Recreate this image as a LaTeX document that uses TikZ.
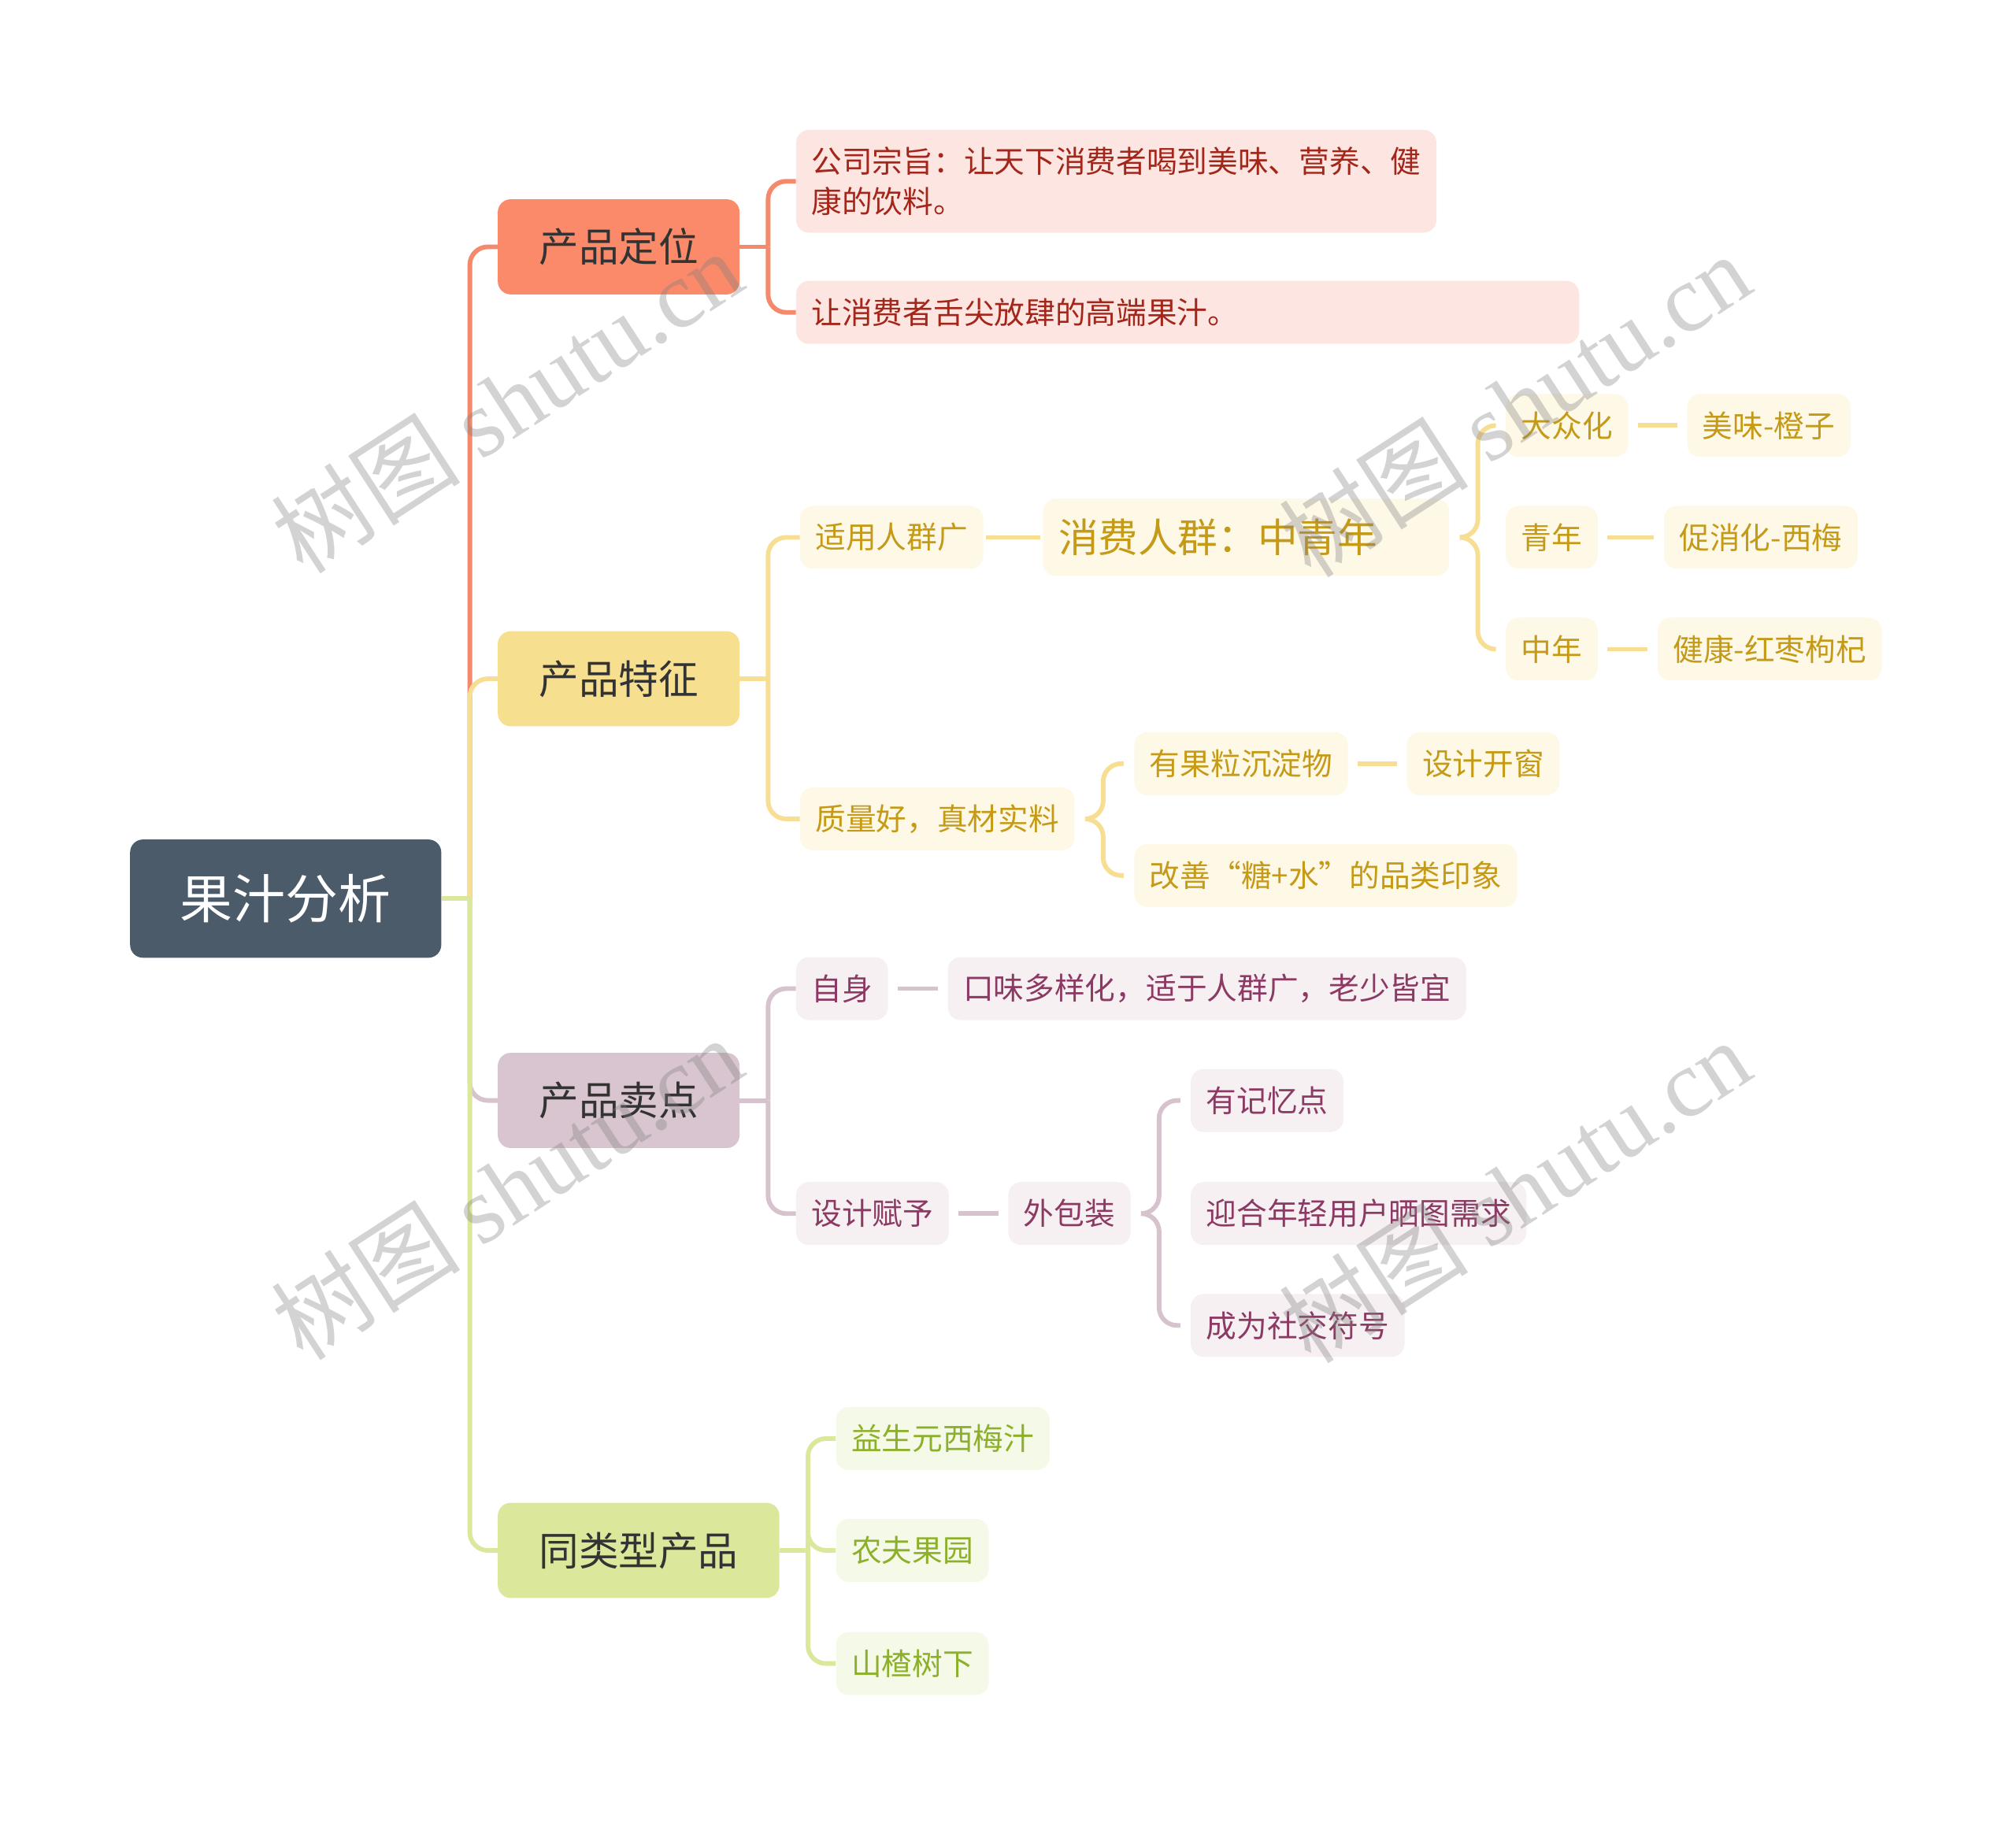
\documentclass[tikz,border=0pt]{standalone}
\usepackage{fontspec}
\setmainfont{Noto Sans CJK SC}
\newfontfamily\wmlatin{Liberation Serif}
\usetikzlibrary{calc}

\definecolor{rootfill}{HTML}{4B5B6A}
\definecolor{topictext}{HTML}{333333}
\definecolor{dwfill}{HTML}{FA8A6A}
\definecolor{dwline}{HTML}{F4896B}
\definecolor{dwleaf}{HTML}{FDE6E1}
\definecolor{dwtext}{HTML}{A3261B}
\definecolor{tzfill}{HTML}{F7DF90}
\definecolor{tzline}{HTML}{F7DE93}
\definecolor{tzleaf}{HTML}{FEF8E7}
\definecolor{tztext}{HTML}{C59A17}
\definecolor{mdfill}{HTML}{D8C5CF}
\definecolor{mdline}{HTML}{D7C3CD}
\definecolor{mdleaf}{HTML}{F6F0F3}
\definecolor{mdtext}{HTML}{8C3A63}
\definecolor{tlfill}{HTML}{DBE89B}
\definecolor{tlline}{HTML}{DBE89B}
\definecolor{tlleaf}{HTML}{F5F9E7}
\definecolor{tltext}{HTML}{8DB02A}

\tikzset{
  base/.style={rounded corners=10pt, anchor=west, inner ysep=0pt},
  rootbox/.style={base, fill=rootfill, text=white, font=\fontsize{41}{49}\selectfont,
    minimum height=92pt, inner xsep=39pt},
  topic/.style={base, fill=#1, text=topictext, font=\fontsize{31}{37}\selectfont,
    minimum height=74pt, inner xsep=32pt},
  leaf/.style 2 args={base, fill=#1, text=#2, font=\fontsize{23.7}{31}\selectfont,
    minimum height=49pt, inner xsep=12pt},
  dwleafbox/.style={leaf={dwleaf}{dwtext}},
  tzleafbox/.style={leaf={tzleaf}{tztext}},
  mdleafbox/.style={leaf={mdleaf}{mdtext}},
  tlleafbox/.style={leaf={tlleaf}{tltext}},
  link/.style={line width=3.6pt, draw=#1, rounded corners=14pt},
  short/.style={shorten <=#1, shorten >=#1},
  wm/.style={font=\fontsize{74}{80}\selectfont, text=gray, text opacity=0.35, rotate=33},
}

\begin{document}
\begin{tikzpicture}[x=1pt, y=1pt]
\useasboundingbox (0,0) rectangle (1568,-1420);

% root and main topics
\node[rootbox] (root) at (101,-699) {果汁分析};
\node[topic=dwfill] (dw) at (387,-192) {产品定位};
\node[topic=tzfill] (tz) at (387,-528) {产品特征};
\node[topic=mdfill] (md) at (387,-856) {产品卖点};
\node[topic=tlfill] (tl) at (387,-1206) {同类型产品};

% product positioning
\node[dwleafbox, minimum height=80pt, text width=474pt, align=left] (zz) at (619,-141)
  {公司宗旨：让天下消费者喝到美味、营养、健\\康的饮料。};
\node[dwleafbox, text width=585pt, align=left] (gd) at (619,-243) {让消费者舌尖放肆的高端果汁。};

% product features
\node[tzleafbox] (syrq) at (622,-418) {适用人群广};
\node[tzleafbox, font=\fontsize{31}{37}\selectfont, minimum height=60pt,
  text width=292pt, align=left] (xfrq) at (811,-418) {消费人群：中青年};
\node[tzleafbox] (dzh) at (1171,-331) {大众化};
\node[tzleafbox] (wdcz) at (1312,-331) {美味-橙子};
\node[tzleafbox] (qn) at (1171,-418) {青年};
\node[tzleafbox] (cxxm) at (1294,-418) {促消化-西梅};
\node[tzleafbox] (zn) at (1171,-505) {中年};
\node[tzleafbox] (jkhz) at (1289,-505) {健康-红枣枸杞};
\node[tzleafbox] (zlh) at (622,-637) {质量好，真材实料};
\node[tzleafbox] (gl) at (882,-594) {有果粒沉淀物};
\node[tzleafbox] (kc) at (1094,-594) {设计开窗};
\node[tzleafbox] (gs) at (882,-681) {改善“糖+水”的品类印象};

% selling points
\node[mdleafbox] (zs) at (619,-769) {自身};
\node[mdleafbox] (kw) at (737,-769) {口味多样化，适于人群广，老少皆宜};
\node[mdleafbox] (sjfy) at (619,-944) {设计赋予};
\node[mdleafbox] (wbz) at (784,-944) {外包装};
\node[mdleafbox] (jyd) at (926,-856) {有记忆点};
\node[mdleafbox] (shxq) at (926,-944) {迎合年轻用户晒图需求};
\node[mdleafbox] (sjfh) at (926,-1031) {成为社交符号};

% similar products
\node[tlleafbox] (ys) at (650,-1119) {益生元西梅汁};
\node[tlleafbox] (nf) at (650,-1206) {农夫果园};
\node[tlleafbox] (sz) at (650,-1294) {山楂树下};

% trunk
\coordinate (rootj) at ($(root.east)+(22,0)$);
\draw[link=dwline] (rootj) |- (dw.west);
\draw[link=tzline] (rootj) |- (tz.west);
\draw[link=mdline] (rootj) |- (md.west);
\draw[link=tlline] (rootj) |- (tl.west);
\draw[link=tlline] (root.east) -- (rootj);

% second level brackets
\coordinate (dwj) at ($(dw.east)+(22,0)$);
\draw[link=dwline] (dw.east) -- (dwj);
\foreach \c in {zz,gd} \draw[link=dwline] (dwj) |- (\c.west);
\coordinate (tzj) at ($(tz.east)+(22,0)$);
\draw[link=tzline] (tz.east) -- (tzj);
\foreach \c in {syrq,zlh} \draw[link=tzline] (tzj) |- (\c.west);
\coordinate (mdj) at ($(md.east)+(22,0)$);
\draw[link=mdline] (md.east) -- (mdj);
\foreach \c in {zs,sjfy} \draw[link=mdline] (mdj) |- (\c.west);
\coordinate (tlj) at ($(tl.east)+(22,0)$);
\draw[link=tlline] (tl.east) -- (tlj);
\foreach \c in {ys,nf,sz} \draw[link=tlline] (tlj) |- (\c.west);

% single links
\draw[link=tzline, short=2pt] (syrq) -- (xfrq);
\draw[link=tzline, short=7.5pt] (dzh) -- (wdcz);
\draw[link=tzline, short=7.5pt] (qn) -- (cxxm);
\draw[link=tzline, short=7.5pt] (zn) -- (jkhz);
\draw[link=tzline, short=7.5pt] (gl) -- (kc);
\draw[link=mdline, short=7.5pt] (zs) -- (kw);
\draw[link=mdline, short=7.5pt] (sjfy) -- (wbz);

% curly brackets
\foreach \c in {dzh,zn}
  \draw[link=tzline] ($(xfrq.east)+(8,0)$) -- ++(14,0) |- ($(\c.west)+(-8,0)$);
\foreach \c in {gl,gs}
  \draw[link=tzline] ($(zlh.east)+(8,0)$) -- ++(14,0) |- ($(\c.west)+(-8,0)$);
\foreach \c in {jyd,sjfh}
  \draw[link=mdline] ($(wbz.east)+(8,0)$) -- ++(14,0) |- ($(\c.west)+(-8,0)$);

% watermarks
\node[wm] (wm1) at (394,-312) {树图 {\wmlatin shutu.cn}};
\node[wm] (wm2) at (1178,-315) {树图 {\wmlatin shutu.cn}};
\node[wm] (wm3) at (394,-924) {树图 {\wmlatin shutu.cn}};
\node[wm] (wm4) at (1178,-926) {树图 {\wmlatin shutu.cn}};
\end{tikzpicture}
\end{document}
